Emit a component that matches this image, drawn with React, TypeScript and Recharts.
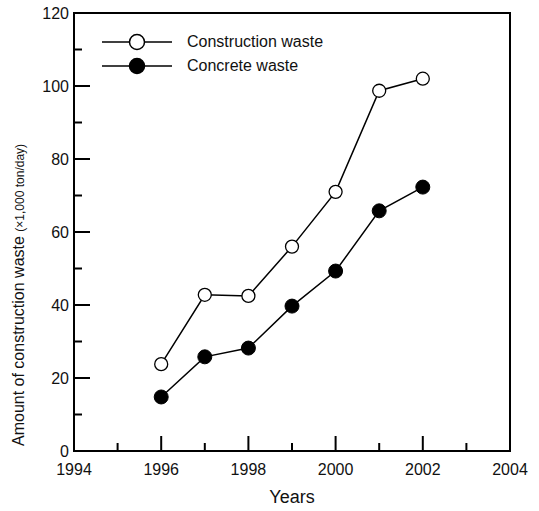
import { LineChart, Line, XAxis, YAxis, ReferenceArea, Legend } from 'recharts';

const years = [1996, 1997, 1998, 1999, 2000, 2001, 2002];
const constructionWaste = [23.8, 42.8, 42.5, 56, 71, 98.7, 102];
const concreteWaste = [14.8, 25.8, 28.2, 39.7, 49.3, 65.8, 72.3];
const xTicks = [1994, 1995, 1996, 1997, 1998, 1999, 2000, 2001, 2002, 2003, 2004];
const yTicks = [0, 10, 20, 30, 40, 50, 60, 70, 80, 90, 100, 110, 120];
const seriesNames = ['Construction waste', 'Concrete waste'];

const data = years.map((year, i) => ({
  year,
  construction: constructionWaste[i],
  concrete: concreteWaste[i],
}));

const FONT = '"Liberation Sans", Arial, Helvetica, sans-serif';

function XTick({ x, y, payload }: any) {
  const major = payload.value % 2 === 0;
  return (
    <g>
      <line x1={x} x2={x} y1={y} y2={y - (major ? 15 : 8)} stroke="#000" strokeWidth={2} />
      {major && (
        <text x={x} y={y + 24} textAnchor="middle" fontSize={16} fontFamily={FONT} fill="#111">
          {payload.value}
        </text>
      )}
    </g>
  );
}

function YTick({ x, y, payload }: any) {
  const major = payload.value % 20 === 0;
  return (
    <g>
      <line x1={x} x2={x + (major ? 16 : 8)} y1={y} y2={y} stroke="#000" strokeWidth={2} />
      {major && (
        <text x={x - 5} y={y + 6} textAnchor="end" fontSize={16} fontFamily={FONT} fill="#111">
          {payload.value}
        </text>
      )}
    </g>
  );
}

function LegendContent({ payload }: any) {
  // keep the original series order
  const items = [...(payload || [])].sort(
    (a: any, b: any) => seriesNames.indexOf(a.value) - seriesNames.indexOf(b.value)
  );
  return (
    <div style={{ fontFamily: FONT, fontSize: 16, color: '#111' }}>
      {items.map((entry: any) => (
        <div key={entry.value} style={{ display: 'flex', alignItems: 'center', height: 24 }}>
          <svg width={72} height={24} style={{ display: 'block' }}>
            <line x1={0} x2={70} y1={12} y2={12} stroke="#000" strokeWidth={1.5} />
            <circle
              cx={35}
              cy={12}
              r={7.5}
              fill={entry.dataKey === 'concrete' ? '#000' : '#fff'}
              stroke="#000"
              strokeWidth={1.5}
            />
          </svg>
          <span style={{ marginLeft: 13 }}>{entry.value}</span>
        </div>
      ))}
    </div>
  );
}

const YLabel = () => (
  <text x={24} y={446} transform="rotate(-90 24 446)" fontSize={16} fontFamily={FONT} fill="#111">
    Amount of construction waste <tspan fontSize={12}>(×1,000 ton/day)</tspan>
  </text>
);

export default function App() {
  return (
    <div style={{ position: 'absolute', left: 0, top: 0, width: 539, height: 511, background: '#fff' }}>
      <LineChart width={539} height={511} data={data} margin={{ top: 13, right: 29, bottom: 0, left: 0 }}>
        <XAxis
          dataKey="year"
          type="number"
          domain={[1994, 2004]}
          ticks={xTicks}
          interval={0}
          axisLine={false}
          tickLine={false}
          tickSize={0}
          tickMargin={0}
          tick={XTick}
          height={60}
          label={{ value: 'Years', position: 'insideBottom', offset: 8, fontSize: 18, fontFamily: FONT, fill: '#111' }}
        />
        <YAxis
          type="number"
          domain={[0, 120]}
          ticks={yTicks}
          interval={0}
          axisLine={false}
          tickLine={false}
          tickSize={0}
          tickMargin={0}
          tick={YTick}
          width={74}
          label={{ content: YLabel }}
        />
        <ReferenceArea x1={1994} x2={2004} y1={0} y2={120} fill="none" stroke="#000" strokeWidth={2} />
        <Legend
          layout="horizontal"
          verticalAlign="middle"
          content={LegendContent}
          wrapperStyle={{ position: 'absolute', left: 102, top: 30, width: 'auto' }}
        />
        <Line
          type="linear"
          dataKey="construction"
          name={seriesNames[0]}
          stroke="#000"
          strokeWidth={1.5}
          dot={{ r: 6.5, fill: '#fff', stroke: '#000', strokeWidth: 1.3 }}
          isAnimationActive={false}
        />
        <Line
          type="linear"
          dataKey="concrete"
          name={seriesNames[1]}
          stroke="#000"
          strokeWidth={1.5}
          dot={{ r: 7, fill: '#000', stroke: '#000', strokeWidth: 1 }}
          isAnimationActive={false}
        />
      </LineChart>
    </div>
  );
}
